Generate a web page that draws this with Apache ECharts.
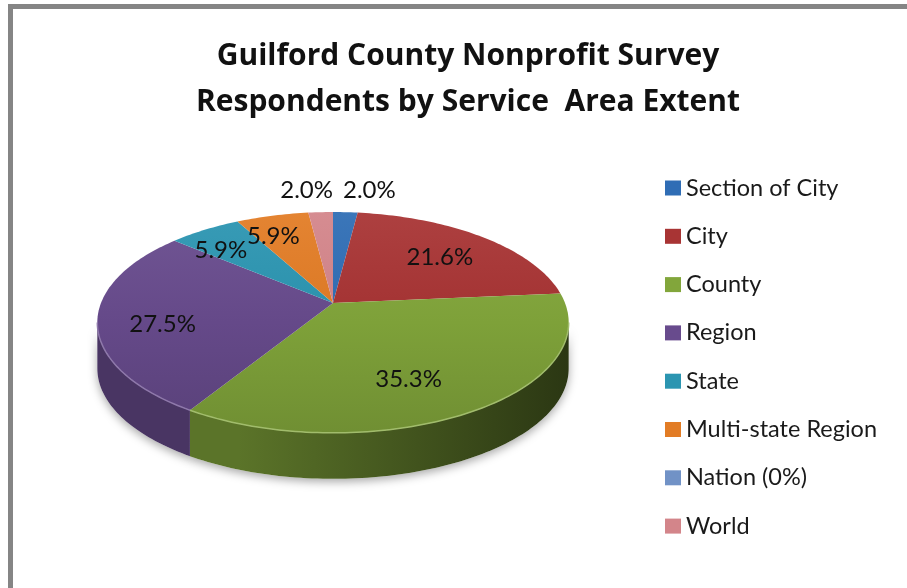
<!DOCTYPE html>
<html>
<head>
<meta charset="utf-8">
<script src="https://cdn.jsdelivr.net/npm/echarts@6/dist/echarts.min.js"></script>
<style>
  html, body { margin: 0; padding: 0; background: #ffffff; }
  #chart { width: 907px; height: 588px; }
</style>
</head>
<body>
<div id="chart"></div>
<script>
// Survey respondents by the extent of the area they serve (percent of respondents)
const categories = ['Section of City', 'City', 'County', 'Region', 'State', 'Multi-state Region', 'Nation (0%)', 'World'];
const percentValues = [2.0, 21.6, 35.3, 27.5, 5.9, 5.9, 0, 2.0];
const sliceColors = ['#2f6db5', '#a83434', '#82a63b', '#684b8d', '#2b95b1', '#e27c25', '#7192c6', '#d3858a'];
const titleLines = ['Guilford County Nonprofit Survey', 'Respondents by Service  Area Extent'];

// Tilted disc: centre, radii, perspective strength and side height
const disc = { cx: 333, cy: 303, rx: 232, ry: 107, k: 0.176, depth: 46 };
const FONT = 'Lato, "Open Sans", sans-serif';
const TITLE_FONT = '"Open Sans", Lato, sans-serif';

const total = percentValues.reduce((s, v) => s + v, 0);
const startAngles = [];
percentValues.reduce((acc, v, i) => { startAngles[i] = acc / total * Math.PI * 2; return acc + v; }, 0);

// Angle measured clockwise from the back (12 o'clock) of the disc
function project(theta, rho, dy) {
  const X = rho * Math.sin(theta);
  const Z = rho * Math.cos(theta);
  const f = 1 / (1 + disc.k * Z);
  return [disc.cx + disc.rx * X * f, disc.cy - disc.ry * Z * f + (dy || 0)];
}

function arcPoints(a0, a1, dy) {
  const n = Math.max(2, Math.ceil((a1 - a0) / 0.02));
  const pts = [];
  for (let j = 0; j <= n; j++) pts.push(project(a0 + (a1 - a0) * j / n, 1, dy));
  return pts;
}

function shade(hex, f) {
  const n = parseInt(hex.slice(1), 16);
  let r = (n >> 16) & 255, g = (n >> 8) & 255, b = n & 255;
  if (f <= 1) { r *= f; g *= f; b *= f; }
  else { const t = f - 1; r += (255 - r) * t; g += (255 - g) * t; b += (255 - b) * t; }
  return 'rgb(' + Math.round(r) + ',' + Math.round(g) + ',' + Math.round(b) + ')';
}

// Visible part of the wall runs through the front between the two silhouette points
const sideFrom = Math.PI / 2 + Math.asin(disc.k);
const sideTo = 3 * Math.PI / 2 - Math.asin(disc.k);
const leftX = disc.cx - disc.rx * 1.02, rightX = disc.cx + disc.rx * 1.02;
const topY = project(0, 1)[1], frontY = project(Math.PI, 1)[1];

function renderSlice(params, api) {
  const i = params.seriesIndex;
  const v = api.value(0);
  if (!(v > 0)) return { type: 'group', children: [] };
  const a0 = startAngles[i];
  const a1 = a0 + v / total * Math.PI * 2;
  const color = sliceColors[i];
  const children = [];

  // Wall
  const s0 = Math.max(a0, sideFrom), s1 = Math.min(a1, sideTo);
  if (s1 > s0) {
    const pts = arcPoints(s0, s1, 0).concat(arcPoints(s0, s1, disc.depth).reverse());
    const wallFill = new echarts.graphic.LinearGradient(leftX, 0, rightX, 0, [
      { offset: 0, color: shade(color, 0.7) },
      { offset: 0.3, color: shade(color, 0.7) },
      { offset: 1, color: shade(color, 0.33) }
    ], true);
    children.push({
      type: 'polygon', z2: 0, shape: { points: pts },
      style: { fill: '#ffffff', shadowColor: 'rgba(0,0,0,0.35)', shadowBlur: 10, shadowOffsetY: 3 }
    });
    children.push({ type: 'polygon', z2: 1, shape: { points: pts }, style: { fill: wallFill } });
    children.push({
      type: 'polyline', z2: 12, shape: { points: arcPoints(s0, s1, 0) },
      style: { stroke: shade(color, 1.25), lineWidth: 1.5, fill: null }
    });
  }

  // Top face
  const topPts = [project(0, 0)].concat(arcPoints(a0, a1, 0));
  const topFill = new echarts.graphic.LinearGradient(0, topY, 0, frontY, [
    { offset: 0, color: shade(color, 1.06) },
    { offset: 0.5, color: shade(color, 0.97) },
    { offset: 1, color: shade(color, 0.86) }
  ], true);
  children.push({ type: 'polygon', z2: 10, shape: { points: topPts }, style: { fill: topFill } });

  // Percentage label
  const mid = (a0 + a1) / 2;
  const text = v.toFixed(1) + '%';
  let lx, ly, align = 'center';
  if (v > 3) {
    lx = disc.cx - 10 + 0.7 * disc.rx * Math.sin(mid);
    ly = disc.cy + 9 - 0.74 * disc.ry * Math.cos(mid);
  } else {
    const rim = project(mid, 1);
    ly = rim[1] - 22;
    if (Math.sin(mid) >= 0) { lx = disc.cx + 10; align = 'left'; }
    else { lx = disc.cx; align = 'right'; }
  }
  children.push({
    type: 'text', z2: 20, x: lx, y: ly,
    style: { text: text, fill: '#111111', font: '24px ' + FONT, align: align, verticalAlign: 'middle' }
  });

  return { type: 'group', children: children };
}

const chart = echarts.init(document.getElementById('chart'), null, { renderer: 'canvas' });

chart.setOption({
  backgroundColor: '#ffffff',
  animation: false,
  title: {
    text: titleLines.join('\n'),
    left: 468,
    textAlign: 'center',
    top: 33,
    padding: 0,
    textStyle: { fontFamily: TITLE_FONT, fontSize: 30, fontWeight: 'bold', color: '#111111', lineHeight: 46 }
  },
  legend: {
    orient: 'vertical',
    left: 665,
    top: 176,
    padding: 0,
    icon: 'rect',
    itemWidth: 16,
    itemHeight: 15,
    itemGap: 24.3,
    selectedMode: false,
    textStyle: { fontFamily: FONT, fontSize: 23.5, color: '#1a1a1a', lineHeight: 24 },
    data: categories
  },
  graphic: [
    { type: 'rect', shape: { x: 8, y: 4, width: 899, height: 5 }, style: { fill: '#858585' } },
    { type: 'rect', shape: { x: 8, y: 4, width: 5, height: 584 }, style: { fill: '#858585' } }
  ],
  series: categories.map((name, i) => ({
    type: 'custom',
    name: name,
    coordinateSystem: 'none',
    itemStyle: { color: sliceColors[i] },
    renderItem: renderSlice,
    data: [[percentValues[i]]]
  }))
});
</script>
</body>
</html>
